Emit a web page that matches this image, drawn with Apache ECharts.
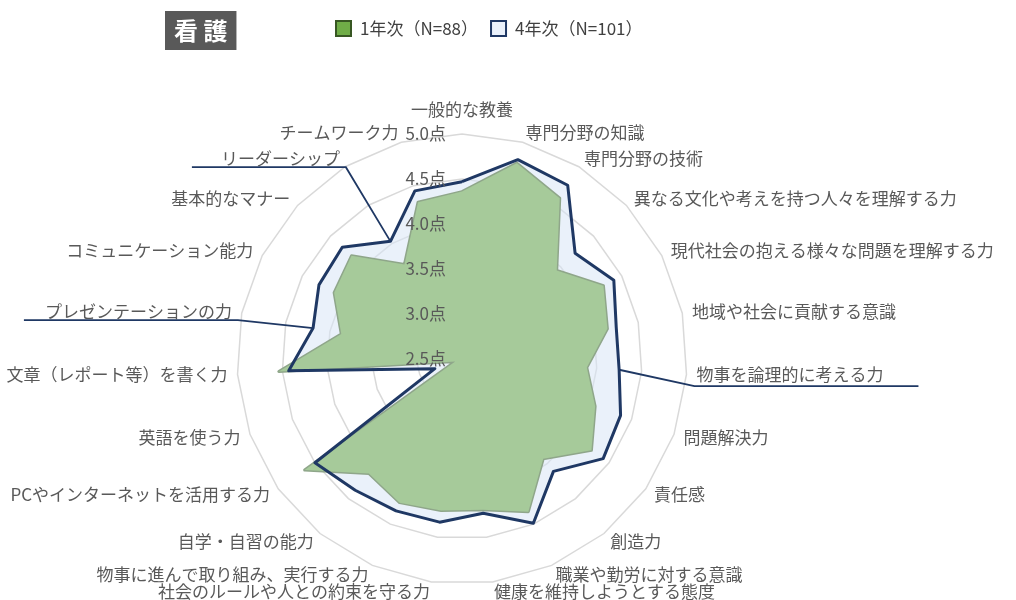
<!DOCTYPE html>
<html>
<head>
<meta charset="utf-8">
<title>看護</title>
<script src="https://cdn.jsdelivr.net/npm/echarts@6/dist/echarts.min.js"></script>
<style>
  html, body { margin: 0; padding: 0; background: #ffffff; }
  #main { width: 1016px; height: 600px; }
</style>
</head>
<body>
<div id="main"></div>
<script>
// 項目（時計回り、上から）
const items = [
  '一般的な教養', '専門分野の知識', '専門分野の技術',
  '異なる文化や考えを持つ人々を理解する力', '現代社会の抱える様々な問題を理解する力',
  '地域や社会に貢献する意識', '物事を論理的に考える力', '問題解決力', '責任感', '創造力',
  '職業や勤労に対する意識', '健康を維持しようとする態度', '社会のルールや人との約束を守る力',
  '物事に進んで取り組み、実行する力', '自学・自習の能力', 'PCやインターネットを活用する力',
  '英語を使う力', '文章（レポート等）を書く力', 'プレゼンテーションの力',
  'コミュニケーション能力', '基本的なマナー', 'リーダーシップ', 'チームワーク力'
]
const year1 = [4.36, 4.76, 4.59, 3.94, 4.27, 4.15, 3.89, 4.07, 4.26, 3.93, 4.35, 4.19,
  4.20, 4.24, 4.14, 4.64, 2.58, 4.54, 3.87, 4.10, 4.18, 3.73, 4.31]
const year4 = [4.47, 4.80, 4.76, 4.22, 4.40, 4.25, 4.25, 4.37, 4.42, 4.11, 4.49, 4.23,
  4.33, 4.34, 4.38, 4.50, 2.82, 4.43, 4.19, 4.29, 4.32, 4.03, 4.44]
const tickMin = 2.5
const tickMax = 5.0
const name1 = '1年次（N=88）'
const name4 = '4年次（N=101）'
// 引き出し線をつける項目
const callouts = ['リーダーシップ', 'プレゼンテーションの力', '物事を論理的に考える力']

const FONT = '"Noto Sans CJK JP", "Noto Sans", sans-serif'
const NAVY = '#1f3864'
const GAP = 10

// echarts の radar は反時計回りなので並びを反転
function ccw (arr) {
  return [arr[0]].concat(arr.slice(1).reverse())
}
function idxOf (k) {
  return k === 0 ? 0 : items.length - k
}

const indicatorMain = ccw(items).map(function (n) {
  return { name: n, min: tickMin, max: tickMax }
})
const indicatorLabel = ccw(items).map(function (n, i) {
  return { name: n, min: tickMin, max: tickMax, axisLabel: { show: i === 0 } }
})

const chart = echarts.init(document.getElementById('main'), null, { renderer: 'canvas' })

const option = {
  backgroundColor: '#ffffff',
  animation: false,
  title: {
    text: '看 護',
    left: 165,
    top: 11,
    backgroundColor: '#595959',
    padding: [5, 9],
    textStyle: { color: '#ffffff', fontSize: 24, fontWeight: 'bold', lineHeight: 29, fontFamily: FONT }
  },
  legend: {
    left: 330,
    top: 15,
    itemWidth: 15,
    itemHeight: 15,
    itemGap: 12,
    selectedMode: false,
    textStyle: { fontSize: 17, color: '#404040', fontFamily: FONT, padding: [0, 0, 0, 4] },
    data: [
      { name: name1, icon: 'rect', itemStyle: { color: '#70ad47', borderColor: '#385723', borderWidth: 2 } },
      { name: name4, icon: 'rect', itemStyle: { color: '#eaf1fb', borderColor: NAVY, borderWidth: 2 } }
    ]
  },
  radar: [{
    center: [462, 359],
    radius: 225,
    startAngle: 90,
    splitNumber: 5,
    shape: 'polygon',
    z: 0,
    indicator: indicatorMain,
    axisName: { color: '#595959', fontSize: 17, fontFamily: FONT,
      formatter: function (n) { return n === items[0] ? '{t|' + n + '}' : n },
      rich: { t: { color: '#595959', fontSize: 17, fontFamily: FONT, padding: [0, 0, 6, 0] } } },
    nameGap: GAP,
    axisLine: { show: false },
    axisTick: { show: false },
    axisLabel: { show: false },
    splitArea: { show: false },
    splitLine: { lineStyle: { color: '#d9d9d9', width: 1.5 } }
  }, {
    center: [462, 359],
    radius: 225,
    startAngle: 90,
    splitNumber: 5,
    shape: 'polygon',
    z: 10,
    indicator: indicatorLabel,
    axisName: { show: false },
    axisLine: { show: false },
    axisTick: { show: false },
    axisLabel: { show: false, margin: 16, color: '#595959', fontSize: 17, fontFamily: FONT,
      formatter: function (v) { return v.toFixed(1) + '点' } },
    splitArea: { show: false },
    splitLine: { show: false }
  }],
  series: [{
    name: name4,
    type: 'radar',
    radarIndex: 0,
    z: 1,
    symbol: 'none',
    lineStyle: { width: 0, opacity: 0 },
    areaStyle: { color: '#d9e6f5', opacity: 0.55 },
    data: [{ value: ccw(year4), name: name4 }]
  }, {
    name: name1,
    type: 'radar',
    radarIndex: 0,
    z: 2,
    symbol: 'none',
    lineStyle: { color: '#8fa68a', width: 3 },
    areaStyle: { color: '#a6ca9a', opacity: 1 },
    data: [{ value: ccw(year1), name: name1 }]
  }, {
    name: '4年次線',
    type: 'radar',
    radarIndex: 0,
    z: 3,
    symbol: 'none',
    lineStyle: { color: NAVY, width: 3 },
    data: [{ value: ccw(year4), name: '4年次線' }]
  }]
}

chart.setOption(option)

// 引き出し線（ラベル下線 → 4年次の点）
const cs = chart.getModel().getComponent('radar', 0).coordinateSystem
const underline = { 'リーダーシップ': 148, 'プレゼンテーションの力': 208, '物事を論理的に考える力': 222 }
const lines = callouts.map(function (n) {
  const k = items.indexOf(n)
  const i = idxOf(k)
  const p = cs.dataToPoint(year4[k], i)
  const a = cs.coordToPoint(cs.r + GAP, i)
  let pts
  if (a[0] < cs.cx) {
    pts = [[a[0] - underline[n], a[1] + 9], [a[0] + 6, a[1] + 9], p]
  } else {
    pts = [p, [a[0] - 2, a[1] + 11], [a[0] + underline[n], a[1] + 11]]
  }
  return {
    type: 'polyline',
    z: 20,
    shape: { points: pts },
    style: { stroke: NAVY, lineWidth: 1.8, fill: null }
  }
})
chart.setOption({ graphic: lines })
</script>
</body>
</html>
